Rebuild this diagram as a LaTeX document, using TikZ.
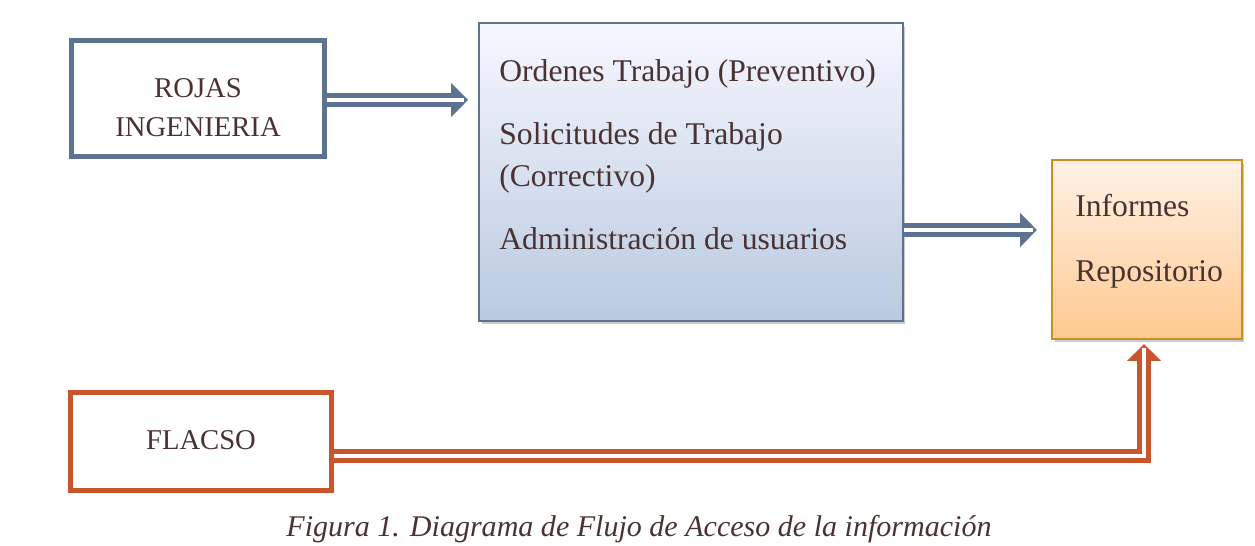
\documentclass[tikz,border=0pt]{standalone}
\usepackage{fontspec}
\setmainfont{Liberation Serif}
\usetikzlibrary{arrows.meta,shadows}
\definecolor{slate}{HTML}{5B7391}
\definecolor{rust}{HTML}{C9552D}
\definecolor{gold}{HTML}{C8901E}
\definecolor{txt}{HTML}{4B3232}
\begin{document}
\begin{tikzpicture}[x=0.02cm,y=-0.02cm,
  plainbox/.style={draw, line width=2.85pt, fill=white, inner sep=0pt},
  shadebox/.style={draw, line width=1.14pt, inner sep=0pt,
    drop shadow={shadow xshift=0.05cm, shadow yshift=-0.07cm, opacity=0.35, fill=black!60}},
  lbl/.style={text=txt, inner sep=0pt, font=\fontsize{18}{20}\selectfont},
  caps/.style={text=txt, inner sep=0pt, font=\fontsize{16.3}{20}\selectfont},
  outer/.style={line width=7.97pt, line join=miter, shorten >=#1,
    -{Triangle[length=0.34cm,width=0.66cm]}},
  inner/.style={white, line width=2.56pt, line join=miter, shorten >=#1},
]
\useasboundingbox (0,0) rectangle (1255,546);

% boxes
\node[plainbox, draw=slate, minimum width=5.06cm, minimum height=2.32cm] (rojas) at (198,98.5) {};
\node[plainbox, draw=rust, minimum width=5.22cm, minimum height=1.96cm] (flacso) at (201,441.5) {};
\node[shadebox, draw=slate, top color=white!60!blue!8, bottom color={rgb,255:red,185;green,202;blue,224},
  minimum width=8.48cm, minimum height=5.96cm] (main) at (691,172) {};
\node[shadebox, draw=gold, top color={rgb,255:red,255;green,242;blue,230}, bottom color={rgb,255:red,255;green,201;blue,145},
  minimum width=3.80cm, minimum height=3.58cm] (inf) at (1147,249.5) {};

% texts
\node[caps, anchor=base] (t1) at (198,98) {ROJAS};
\node[caps, anchor=base] (t2) at (198,137) {INGENIERIA};
\node[caps, anchor=base] (t3) at (201,450) {FLACSO};
\node[lbl, anchor=base west] (m1) at (499,82) {Ordenes Trabajo (Preventivo)};
\node[lbl, anchor=base west] (m2) at (499,145) {Solicitudes de Trabajo};
\node[lbl, anchor=base west] (m3) at (499,187) {(Correctivo)};
\node[lbl, anchor=base west] (m4) at (499,250) {Administración de usuarios};
\node[lbl, anchor=base west] (i1) at (1075,217) {Informes};
\node[lbl, anchor=base west] (i2) at (1075,282) {Repositorio};
\node[lbl, anchor=base, font=\fontsize{17.1}{20}\selectfont\itshape] (cap) at (639,537)
  {Figura 1. Diagrama de Flujo de Acceso de la información};

% connectors
\draw[outer=10*0.02cm, slate] (rojas.east |- 0,100) -- (main.west |- 0,100);
\draw[inner=14*0.02cm] (rojas.east |- 0,100) -- (main.west |- 0,100);

\draw[outer=14*0.02cm, slate] (main.east |- 0,230) -- (inf.west |- 0,230);
\draw[inner=18*0.02cm] (main.east |- 0,230) -- (inf.west |- 0,230);

\draw[outer=4*0.02cm, rust] (flacso.east |- 0,456) -| ([xshift=-3*0.02cm]inf.south);
\draw[inner=8*0.02cm] (flacso.east |- 0,456) -| ([xshift=-3*0.02cm]inf.south);
\end{tikzpicture}
\end{document}
